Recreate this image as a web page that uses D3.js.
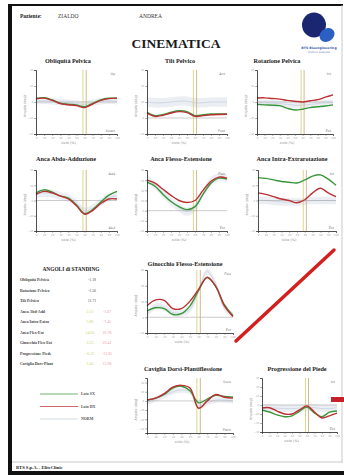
<!DOCTYPE html>
<html>
<head>
<meta charset="utf-8">
<script src="https://cdn.jsdelivr.net/npm/d3@7/dist/d3.min.js"></script>
<style>
  html, body { margin: 0; padding: 0; background: #fff; }
  svg { display: block; }
</style>
</head>
<body>
<svg id="page" width="344" height="475"></svg>
<script>
// ---- Gait cycle sampling (percent of stride) ----
const gaitCycle = [0, 10, 20, 30, 40, 50, 60, 70, 80, 90, 100];
const toeOffSx = 58;
const toeOffDx = 62;

// ---- Kinematic curves (degrees) : Sx = left (green), Dx = right (red), Norm = reference band ----
const obliquitaSx = [2.3, 2.7, 1.3, -0.8, -1.4, -1.9, -2.9, -0.8, 1.3, 2.3, 2.3];
const obliquitaDx = [2.0, 2.4, 1.0, -1.0, -1.7, -2.3, -3.5, -1.3, 1.0, 2.1, 2.4];
const obliquitaNorm = [0.5, 0.8, 0.5, 0, -0.5, -1, -1.5, -0.5, 0.5, 0.8, 0.5];
const obliquitaSd = [2, 2, 2, 2, 2, 2, 2, 2, 2, 2, 2];

const tiltSx = [3.5, 1.5, 2.2, 3.6, 4.5, 4.0, 1.5, 2.0, 2.5, 2.6, 2.6];
const tiltDx = [3.0, 1.0, 1.7, 3.1, 4.0, 3.4, 1.0, 1.5, 2.0, 2.2, 2.3];
const tiltNorm = [10, 9.5, 9.5, 10, 10.5, 10.5, 9.5, 9.5, 10, 10, 10];
const tiltSd = [3, 3, 3, 3, 3, 3, 3, 3, 3, 3, 3];

const rotazioneSx = [-1.5, -1.8, -2.0, -2.3, -4.0, -5.0, -4.5, -3.5, -3.0, -2.5, -1.8];
const rotazioneDx = [2.5, 2.6, 2.2, 1.8, 1.0, 0.5, 0.0, 0.8, 1.5, 3.0, 4.5];
const rotazioneNorm = [-0.5, -0.5, -0.8, -1.0, -1.5, -2.0, -2.0, -1.5, -1.0, -0.5, -0.5];
const rotazioneSd = [2, 2, 2, 2, 2, 2, 2, 2, 2, 2, 2];

const abdAddSx = [5, 7, 5.5, 3, 1.5, -3, -8.5, -6, -1, 3.5, 6];
const abdAddDx = [4, 6, 5, 3, 1, -3.5, -9, -6.5, -2, 1, 1];
const abdAddNorm = [4, 5, 4.5, 3, 1.5, -2, -7, -5, -1, 2, 3];
const abdAddSd = [2.5, 2.5, 2.5, 2.5, 2.5, 2.5, 2.5, 2.5, 2.5, 2.5, 2.5];

const ancaFlexSx = [28, 24, 16, 9, 4, 1, 4, 16, 27, 32, 31];
const ancaFlexDx = [30, 27, 21, 15, 10, 8, 10, 20, 29, 33, 32];
const ancaFlexNorm = [31, 25, 17, 9, 3, -1, 3, 17, 29, 33, 32];
const ancaFlexSd = [4, 4, 4, 4, 4, 4, 4, 4, 4, 4, 4];

const ancaRotSx = [15, 14.5, 13.5, 12.5, 12, 11.5, 13.5, 16, 16.8, 14, 10];
const ancaRotDx = [5, 4, 2.5, 1, 0, -1.5, 0.5, 5, 8, 5, 2.5];
const ancaRotNorm = [0, 0, -0.5, -1, -1, -1, -0.5, 0, 0, 0, 0];
const ancaRotSd = [2.5, 2.5, 2.5, 2.5, 2.5, 2.5, 2.5, 2.5, 2.5, 2.5, 2.5];

const ginocchioSx = [8, 12, 11, 3.5, 4.5, 14.5, 34, 51, 39, 16, 2];
const ginocchioDx = [14.5, 22, 21.5, 11, 11, 20.5, 35.5, 50.5, 39, 14.5, 1];
const ginocchioNorm = [4, 14, 12, 6, 5, 10, 34, 58, 42, 12, 3];
const ginocchioSd = [4, 4, 4, 4, 4, 4, 4, 4, 4, 4, 4];

const cavigliaSx = [1, 3, 7, 14, 16, 11, -2, 2, 6, 5, 4];
const cavigliaDx = [1, 3, 8, 15, 17, 14, -8, 0, 7, 4, 3];
const cavigliaNorm = [-2, 2, 6, 10, 12, 10, -6, -2, 1, 1, 0];
const cavigliaSd = [3, 3, 3, 3, 3, 3, 3, 3, 3, 3, 3];

const piedeSx = [-5.5, -7.8, -11, -13, -12, -7, -2.2, -9, -13, -8, -6.7];
const piedeDx = [-3.3, -3, -6.7, -10, -10, -5.5, -1, -7.8, -14.4, -12, -9];
const piedeNorm = [-3, -3, -3.5, -4, -4, -3.5, -3, -3, -4, -4, -3];
const piedeSd = [4, 4, 4, 4, 4, 4, 4, 4, 4, 4, 4];

// ---- Standing angles table ----
const standingLabels = ["Obliquità Pelvica", "Rotazione Pelvica", "Tilt Pelvico", "Anca Abd-Add",
  "Anca Intra-Extra", "Anca Flex-Ext", "Ginocchio Flex-Ext", "Progressione Piede", "Caviglia Dors-Plant"];
const standingSx = ["-1.18", "-1.56", "11.71", "3.12", "5.80", "14.02", "3.25", "-6.12", "2.45"];
const standingDx = [null, null, null, "-1.67", "-7.45", "10.78", "20.41", "-12.05", "12.90"];

// ---- Legend ----
const legendLabels = ["Lato SX", "Lato DX", "NORM"];

// ---- Styling ----
const colSx = "#3a963a";
const colDx = "#bb3033";
const colNormBand = "#e6eaef";
const colNormLine = "#c2cfdc";

const panels = [
  { title: "Obliquità Pelvica", tx: 68, ty: 63, x0: 36, x1: 117, y0: 70, y1: 134, dom: [-20, 20], up: "Up", dn: "Down", sx: obliquitaSx, dx: obliquitaDx, nm: obliquitaNorm, sd: obliquitaSd },
  { title: "Tilt Pelvico", tx: 180, ty: 63, x0: 147, x1: 227, y0: 70, y1: 134, dom: [-10, 30], up: "Ant", dn: "Post", sx: tiltSx, dx: tiltDx, nm: tiltNorm, sd: tiltSd },
  { title: "Rotazione Pelvica", tx: 277, ty: 63, x0: 257, x1: 333, y0: 70, y1: 134, dom: [-20, 20], up: "Int", dn: "Ext", sx: rotazioneSx, dx: rotazioneDx, nm: rotazioneNorm, sd: rotazioneSd },
  { title: "Anca Abdo-Adduzione", tx: 66, ty: 161, x0: 36, x1: 117, y0: 170, y1: 231, dom: [-20, 20], up: "Add", dn: "Abd", sx: abdAddSx, dx: abdAddDx, nm: abdAddNorm, sd: abdAddSd },
  { title: "Anca Flesso-Estensione", tx: 181, ty: 161, x0: 147, x1: 227, y0: 170, y1: 231, dom: [-20, 40], up: "Flex", dn: "Ext", sx: ancaFlexSx, dx: ancaFlexDx, nm: ancaFlexNorm, sd: ancaFlexSd },
  { title: "Anca Intra-Extrarotazione", tx: 292, ty: 161, x0: 258, x1: 336, y0: 170, y1: 231, dom: [-20, 20], up: "Int", dn: "Ext", sx: ancaRotSx, dx: ancaRotDx, nm: ancaRotNorm, sd: ancaRotSd },
  { title: "Ginocchio Flesso-Estensione", tx: 185, ty: 266, x0: 147, x1: 233, y0: 270, y1: 333, dom: [-20, 60], up: "Flex", dn: "Ext", sx: ginocchioSx, dx: ginocchioDx, nm: ginocchioNorm, sd: ginocchioSd },
  { title: "Caviglia Dorsi-Plantiflessione", tx: 183, ty: 371, x0: 147, x1: 233, y0: 378, y1: 433, dom: [-35, 25], up: "Dors", dn: "Plant", sx: cavigliaSx, dx: cavigliaDx, nm: cavigliaNorm, sd: cavigliaSd },
  { title: "Progressione del Piede", tx: 297, ty: 371, x0: 262, x1: 337, y0: 378, y1: 432, dom: [-30, 30], up: "Int", dn: "Ext", sx: piedeSx, dx: piedeDx, nm: piedeNorm, sd: piedeSd }
];

const svg = d3.select("#page");
const serif = '"Liberation Serif", "DejaVu Serif", serif';

// ---- Page frame ----
svg.append("rect").attr("x", 0).attr("y", 0).attr("width", 344).attr("height", 475).attr("fill", "#fff");
svg.append("line").attr("x1", 8).attr("x2", 343).attr("y1", 5).attr("y2", 5).attr("stroke", "#111").attr("stroke-width", 2);
svg.append("rect").attr("x", 8).attr("y", 4).attr("width", 4).attr("height", 471).attr("fill", "#111");
svg.append("line").attr("x1", 342).attr("x2", 342).attr("y1", 5).attr("y2", 463).attr("stroke", "#bbb").attr("stroke-width", 0.8);
svg.append("line").attr("x1", 12).attr("x2", 342).attr("y1", 462).attr("y2", 462).attr("stroke", "#bbb").attr("stroke-width", 0.8);
svg.append("rect").attr("x", 8).attr("y", 471).attr("width", 336).attr("height", 4).attr("fill", "#111");
svg.append("text").attr("x", 16).attr("y", 468.5).attr("font-family", serif).attr("font-size", 4.6)
  .attr("font-weight", "bold").attr("fill", "#222").text("BTS S.p.A. - EliteClinic");

// ---- Header ----
svg.append("text").attr("x", 20).attr("y", 18).attr("font-family", serif).attr("font-size", 5.5)
  .attr("font-weight", "bold").attr("fill", "#222").text("Paziente:");
svg.append("text").attr("x", 58).attr("y", 18).attr("font-family", serif).attr("font-size", 5.5)
  .attr("fill", "#333").text("ZIALDO");
svg.append("text").attr("x", 139).attr("y", 18).attr("font-family", serif).attr("font-size", 5.5)
  .attr("fill", "#333").text("ANDREA");
svg.append("text").attr("x", 176).attr("y", 48).attr("text-anchor", "middle").attr("font-family", serif)
  .attr("font-size", 13.5).attr("font-weight", "bold").attr("fill", "#1a1a1a").text("CINEMATICA");

// logo
const logo = svg.append("g");
logo.append("ellipse").attr("cx", 314).attr("cy", 25).attr("rx", 12).attr("ry", 12.5).attr("fill", "#1a2670");
logo.append("ellipse").attr("cx", 327).attr("cy", 35).attr("rx", 8).attr("ry", 6.5)
  .attr("transform", "rotate(-35 327 35)").attr("fill", "#2c5fc4");
logo.append("text").attr("x", 319).attr("y", 48.5).attr("text-anchor", "middle").attr("font-family", "DejaVu Sans")
  .attr("font-size", 3.2).attr("font-weight", "bold").attr("fill", "#3a5aa8").text("BTS Bioengineering");
logo.append("text").attr("x", 319).attr("y", 52.5).attr("text-anchor", "middle").attr("font-family", "DejaVu Sans")
  .attr("font-size", 2.8).attr("fill", "#6a82b8").text("motion analysis");

// ---- Kinematic panels ----
panels.forEach(p => {
  const g = svg.append("g");
  const x = d3.scaleLinear().domain([0, 100]).range([p.x0, p.x1]);
  const y = d3.scaleLinear().domain(p.dom).range([p.y1, p.y0]);
  const pts = gaitCycle.map((c, i) => i);

  g.append("text").attr("x", p.tx).attr("y", p.ty).attr("text-anchor", "middle").attr("font-family", serif)
    .attr("font-size", 6.2).attr("font-weight", "bold").attr("fill", "#1a1a1a").text(p.title);

  // reference band
  const band = d3.area().curve(d3.curveCatmullRom)
    .x(i => x(gaitCycle[i])).y0(i => y(p.nm[i] - p.sd[i])).y1(i => y(p.nm[i] + p.sd[i]));
  g.append("path").attr("d", band(pts)).attr("fill", colNormBand).attr("opacity", 0.8);
  const line = arr => d3.line().curve(d3.curveCatmullRom).x(i => x(gaitCycle[i])).y(i => y(arr[i]));
  g.append("path").attr("d", line(p.nm)(pts)).attr("fill", "none").attr("stroke", colNormLine).attr("stroke-width", 0.7);

  // zero line
  g.append("line").attr("x1", p.x0).attr("x2", p.x1).attr("y1", y(0)).attr("y2", y(0))
    .attr("stroke", "#a8a8a8").attr("stroke-width", 0.6);

  // toe-off markers
  g.append("line").attr("x1", x(toeOffSx)).attr("x2", x(toeOffSx)).attr("y1", p.y0).attr("y2", p.y1)
    .attr("stroke", "#d8cc6a").attr("stroke-width", 0.8);
  g.append("line").attr("x1", x(toeOffDx)).attr("x2", x(toeOffDx)).attr("y1", p.y0).attr("y2", p.y1)
    .attr("stroke", "#c9a77a").attr("stroke-width", 0.8);

  // side curves
  g.append("path").attr("d", line(p.sx)(pts)).attr("fill", "none").attr("stroke", colSx).attr("stroke-width", 1.4);
  g.append("path").attr("d", line(p.dx)(pts)).attr("fill", "none").attr("stroke", colDx).attr("stroke-width", 1.4);

  // axes
  const xAxis = d3.axisBottom(x).tickValues(gaitCycle).tickSize(1.8).tickPadding(1).tickFormat(d3.format("d"));
  const gx = g.append("g").attr("transform", `translate(0,${p.y1})`).call(xAxis);
  const yAxis = d3.axisLeft(y).ticks(5).tickSize(1.8).tickPadding(1);
  const gy = g.append("g").attr("transform", `translate(${p.x0},0)`).call(yAxis);
  [gx, gy].forEach(a => {
    a.select(".domain").attr("stroke", "#222").attr("stroke-width", 0.8);
    a.selectAll(".tick line").attr("stroke", "#555").attr("stroke-width", 0.5);
    a.selectAll(".tick text").attr("font-size", 2.6).attr("fill", "#aaa").attr("font-family", "DejaVu Sans");
  });

  g.append("text").attr("x", p.x1 - 2).attr("y", p.y0 + 5).attr("text-anchor", "end").attr("font-family", "DejaVu Sans")
    .attr("font-size", 3.3).attr("fill", "#777").text(p.up);
  g.append("text").attr("x", p.x1 - 2).attr("y", p.y1 - 2).attr("text-anchor", "end").attr("font-family", "DejaVu Sans")
    .attr("font-size", 3.3).attr("fill", "#777").text(p.dn);
  g.append("text").attr("x", (p.x0 + p.x1) / 2 - 8).attr("y", p.y1 + 10).attr("text-anchor", "middle")
    .attr("font-family", "DejaVu Sans").attr("font-size", 3.4).attr("fill", "#888").text("ciclo (%)");
  g.append("text").attr("transform", `translate(${p.x0 - 10},${(p.y0 + p.y1) / 2 + 4}) rotate(-90)`)
    .attr("text-anchor", "middle").attr("font-family", "DejaVu Sans").attr("font-size", 3.4).attr("fill", "#888")
    .text("Angolo (deg)");
});

// ---- Standing angles table ----
const tab = svg.append("g");
tab.append("text").attr("x", 71).attr("y", 271).attr("text-anchor", "middle").attr("font-family", serif)
  .attr("font-size", 5.4).attr("font-weight", "bold").attr("fill", "#222").text("ANGOLI di STANDING");
const rowY = d3.scalePoint().domain(standingLabels).range([281, 365]);
standingLabels.forEach((lab, i) => {
  const yy = rowY(lab);
  tab.append("text").attr("x", 20).attr("y", yy).attr("font-family", serif).attr("font-size", 3.9)
    .attr("font-weight", "bold").attr("fill", "#444").text(lab);
  const two = standingDx[i] !== null;
  tab.append("text").attr("x", two ? 90 : 92).attr("y", yy).attr("text-anchor", "middle").attr("font-family", serif)
    .attr("font-size", 3.9).attr("fill", two ? "#c8cf6a" : "#555").text(standingSx[i]);
  if (two) {
    tab.append("text").attr("x", 107).attr("y", yy).attr("text-anchor", "middle").attr("font-family", serif)
      .attr("font-size", 3.9).attr("fill", "#e79aa6").text(standingDx[i]);
  }
});

// ---- Legend ----
const legColors = [colSx, colDx, colNormLine];
legendLabels.forEach((lab, i) => {
  const yy = 394 + i * 12.5;
  svg.append("line").attr("x1", 40).attr("x2", 78).attr("y1", yy).attr("y2", yy)
    .attr("stroke", legColors[i]).attr("stroke-width", 0.9).attr("opacity", 0.8);
  svg.append("text").attr("x", 81).attr("y", yy + 1.3).attr("font-family", serif).attr("font-size", 3.9)
    .attr("font-weight", "bold").attr("fill", "#555").text(lab);
});

// ---- Red annotation marks ----
svg.append("line").attr("x1", 236).attr("y1", 341).attr("x2", 334).attr("y2", 250)
  .attr("stroke", "#d41f1f").attr("stroke-width", 3.5).attr("stroke-linecap", "round");
svg.append("rect").attr("x", 331).attr("y", 397).attr("width", 13).attr("height", 5).attr("fill", "#c8202a");
</script>
</body>
</html>
